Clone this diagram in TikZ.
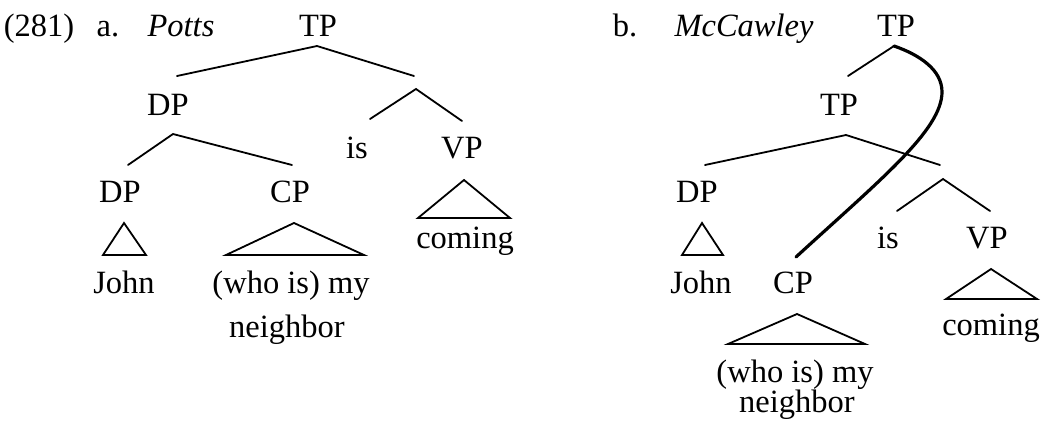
\documentclass[tikz,border=0pt]{standalone}
\usepackage{fontspec}
\setmainfont{Liberation Serif}
\begin{document}
\begin{tikzpicture}[x=1pt,y=-1pt,
  lbl/.style={anchor=base,inner sep=0pt,font=\fontsize{32.5}{38}\selectfont},
  branch/.style={line width=1.8pt,line cap=round,line join=miter},
  tri/.style={line width=1.8pt,line join=miter},
  arc/.style={line width=3.2pt,line cap=round}]
\useasboundingbox (0,0) rectangle (1048,425);

% ---------- (a) Potts ----------
\node[lbl] (num) at (39,37) {(281)};
\node[lbl] (la) at (108,37) {a.};
\node[lbl] (pot) at (181,37) {\itshape Potts};
\node[lbl] (aTP) at (318,37) {TP};
\node[lbl] (aDP) at (168,115) {DP};
\node[lbl] (ais) at (357,158) {is};
\node[lbl] (aVP) at (462,158) {VP};
\node[lbl] (aDPj) at (120,202) {DP};
\node[lbl] (aCP) at (290,202) {CP};
\node[lbl] (acom) at (465,248) {coming};
\node[lbl] (ajohn) at (124,293) {John};
\node[lbl] (awho) at (291,293) {(who is) my};
\node[lbl] (anb) at (287,337) {neighbor};

\coordinate (aTPt) at (317,46);
\coordinate (aDPe) at (177,76);
\coordinate (aBe) at (414,76);
\coordinate (aBt) at (416,89);
\coordinate (aise) at (370,119);
\coordinate (aVPe) at (462,121);
\coordinate (aDPt) at (173,134);
\coordinate (aDPje) at (128,165);
\coordinate (aCPe) at (292,165);

\draw[branch] (aDPe) -- (aTPt) -- (aBe);
\draw[branch] (aise) -- (aBt) -- (aVPe);
\draw[branch] (aDPje) -- (aDPt) -- (aCPe);
\draw[tri] (464,180) -- (418,218) -- (510,218) -- cycle;
\draw[tri] (124,223) -- (103,255) -- (146,255) -- cycle;
\draw[tri] (294,223) -- (226,255) -- (364,255) -- cycle;

% ---------- (b) McCawley ----------
\node[lbl] (lb) at (625,37) {b.};
\node[lbl] (mcc) at (744,37) {\itshape McCawley};
\node[lbl] (bTP) at (896,37) {TP};
\node[lbl] (bTPi) at (839,115) {TP};
\node[lbl] (bDP) at (697,202) {DP};
\node[lbl] (bis) at (888,248) {is};
\node[lbl] (bVP) at (987,248) {VP};
\node[lbl] (bjohn) at (701,293) {John};
\node[lbl] (bCP) at (793,293) {CP};
\node[lbl] (bcom) at (991,335) {coming};
\node[lbl] (bwho) at (795,382) {(who is) my};
\node[lbl] (bnb) at (797,412) {neighbor};

\coordinate (bTPt) at (894,46);
\coordinate (bTPie) at (848,76);
\coordinate (bTPit) at (846,135);
\coordinate (bDPe) at (705,165);
\coordinate (bBe) at (940,165);
\coordinate (bBt) at (943,179);
\coordinate (bise) at (897,211);
\coordinate (bVPe) at (990,211);
\coordinate (bCPe) at (796,257);
\coordinate (bbend) at (942,92);

\draw[branch] (bTPie) -- (bTPt);
\draw[branch] (bDPe) -- (bTPit) -- (bBe);
\draw[branch] (bise) -- (bBt) -- (bVPe);
\draw[tri] (702,223) -- (682,255) -- (723,255) -- cycle;
\draw[tri] (991,269) -- (946,299) -- (1037,299) -- cycle;
\draw[tri] (797,314) -- (728,344) -- (865,344) -- cycle;

% CP attached to the higher TP
\draw[arc] (bTPt) .. controls (920,55) and (942,70) .. (bbend)
  .. controls (942,130) and (880,180) .. (bCPe);
\end{tikzpicture}
\end{document}
